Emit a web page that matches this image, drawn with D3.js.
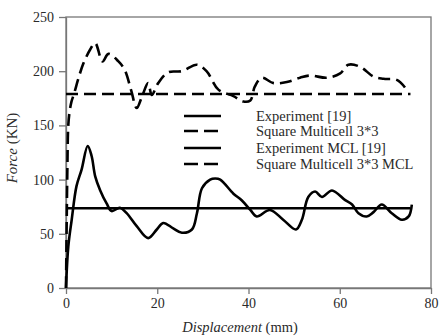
<!DOCTYPE html>
<html><head><meta charset="utf-8">
<script src="https://cdn.jsdelivr.net/npm/d3@7"></script>
<style>body{margin:0;background:#fff}svg{display:block}</style>
</head><body>
<svg id="c" width="440" height="336"></svg>
<script>
const xTicks = [0, 20, 40, 60, 80];
const yTicks = [0, 50, 100, 150, 200, 250];
const legendLabels = ["Experiment [19]", "Square Multicell 3*3", "Experiment MCL [19]", "Square Multicell 3*3 MCL"];
// Square Multicell 3*3 (dashed curve)
const squareDisp = [0,0.15,0.3,0.5,0.8,1.2,1.75,2.7,3.8,5.3,6.4,8.0,9.3,11.5,12.9,14.3,15.5,16.6,18,18.8,20.2,22.4,25.4,28.7,30.8,33.4,36.7,38.9,40.4,41.4,42.9,45.5,48.4,51.3,53.5,57.2,60.1,61.9,64.5,67.4,69.6,72.5,74.3];
const squareForce = [0,60,110,150,163,172,179,193,207,220,226,209,216,209,201,182,166,176,189,178,189,199,200,206,200,183,177,172,173,186,194,189,190,194,196,194,198,206,204,195,193,192,185];
// Experiment (solid curve)
const expDisp = [0,0.5,1.25,2.3,3.4,4.75,5.6,6.4,7.5,8.9,10,11.8,13.3,15.5,18,19.9,21.3,23.5,25.4,27.6,28.7,29.8,31.6,32.7,33.8,36.7,38.5,40.4,41.8,44.7,47.6,50.4,51.7,53.1,54.6,56.1,58.3,61.2,62.7,64.1,65.9,67.4,69.2,71.4,73.6,75.1,75.8];
const expForce = [0,38,63,94,109,131,122,103,90,78,71,74,69,57,46,54,60,55,51,54,69,92,100,101,100,87,81,72,66,72,63,54,63,84,89,84,90,81,77,69,66,70,77,69,63,66,77];
// constant MCL lines
const mclDisp = [0, 75.5];
const expMCL = [73.6, 73.6];
const squareMCL = [179, 179];

const svg = d3.select("#c");
const x = d3.scaleLinear().domain([0, 80]).range([66, 431]);
const y = d3.scaleLinear().domain([0, 250]).range([288, 17]);
const axisCol = "#777";
const textCol = "#2a2a2a";
const font = "'Liberation Serif','Times New Roman',serif";

// frame
svg.append("rect").attr("x", 66).attr("y", 17).attr("width", 365).attr("height", 271)
  .attr("fill", "none").attr("stroke", axisCol).attr("stroke-width", 1.3);

const gx = svg.append("g").attr("transform", "translate(0,288)")
  .call(d3.axisBottom(x).tickValues(xTicks).tickSize(6).tickSizeOuter(0).tickPadding(4));
const gy = svg.append("g").attr("transform", "translate(66,0)")
  .call(d3.axisLeft(y).tickValues(yTicks).tickSize(7).tickSizeOuter(0).tickPadding(5));
[gx, gy].forEach(g => {
  g.attr("font-family", null).attr("font-size", null);
  g.select(".domain").attr("stroke", axisCol).attr("stroke-width", 1.3);
  g.selectAll(".tick line").attr("stroke", axisCol).attr("stroke-width", 1.3);
  g.selectAll(".tick text").attr("fill", textCol).style("font-family", font).style("font-size", "14px");
});

const line = d3.line().x(d => x(d[0])).y(d => y(d[1])).curve(d3.curveCatmullRom.alpha(0.5));
const zip = (a, b) => a.map((v, i) => [v, b[i]]);

svg.append("path").datum(zip(mclDisp, squareMCL)).attr("d", line)
  .attr("fill", "none").attr("stroke", "#000").attr("stroke-width", 2.6).attr("stroke-dasharray", "12,6");
svg.append("path").datum(zip(mclDisp, expMCL)).attr("d", line)
  .attr("fill", "none").attr("stroke", "#000").attr("stroke-width", 2.6);
svg.append("path").datum(zip(squareDisp, squareForce)).attr("d", line)
  .attr("fill", "none").attr("stroke", "#000").attr("stroke-width", 2.6).attr("stroke-dasharray", "12,6");
svg.append("path").datum(zip(expDisp, expForce)).attr("d", line)
  .attr("fill", "none").attr("stroke", "#000").attr("stroke-width", 2.6).attr("stroke-linejoin", "round");

// legend
const legY = [116, 131, 148, 164];
const dashes = [null, "14,6", null, "14,6"];
legendLabels.forEach((t, i) => {
  svg.append("line").attr("x1", 184).attr("x2", 221).attr("y1", legY[i]).attr("y2", legY[i])
    .attr("stroke", "#000").attr("stroke-width", 2.6).attr("stroke-dasharray", dashes[i]);
  svg.append("text").attr("x", 256).attr("y", legY[i] + 5).text(t)
    .attr("fill", textCol).style("font-family", font).style("font-size", "14.5px");
});

// axis titles
const xt = svg.append("text").attr("x", 240).attr("y", 332).attr("text-anchor", "middle")
  .attr("fill", textCol).style("font-family", font).style("font-size", "14.5px");
xt.append("tspan").attr("font-style", "italic").text("Displacement");
xt.append("tspan").text(" (mm)");
const yt = svg.append("text").attr("transform", "translate(17,148) rotate(-90)").attr("text-anchor", "middle")
  .attr("fill", textCol).style("font-family", font).style("font-size", "15px");
yt.append("tspan").attr("font-style", "italic").text("Force");
yt.append("tspan").text(" (KN)");
</script>
</body></html>
